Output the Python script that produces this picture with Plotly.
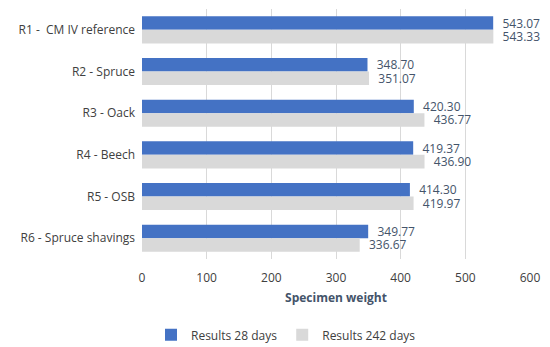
import plotly.graph_objects as go

categories = ["R1 -  CM IV reference", "R2 - Spruce", "R3 - Oack", "R4 - Beech", "R5 - OSB", "R6 - Spruce shavings"]
results_28 = [543.07, 348.70, 420.30, 419.37, 414.30, 349.77]
results_242 = [543.33, 351.07, 436.77, 436.90, 419.97, 336.67]
series_names = ["Results 28 days", "Results 242 days"]
tick_vals = [0, 100, 200, 300, 400, 500, 600]

font_family = "Open Sans, Liberation Sans, sans-serif"
pad = "\u00a0\u00a0"

fig = go.Figure()
fig.add_trace(go.Bar(
    y=categories, x=results_28, orientation="h", name=series_names[0],
    marker=dict(color="#4472C4", line=dict(width=0)),
    text=[f"{pad}{v:.2f}" for v in results_28], textposition="outside", constraintext="none",
    textfont=dict(size=12, color="#44546A", family=font_family), cliponaxis=False,
))
fig.add_trace(go.Bar(
    y=categories, x=results_242, orientation="h", name=series_names[1],
    marker=dict(color="#D9D9D9", line=dict(width=0)),
    text=[f"{pad}{v:.2f}" for v in results_242], textposition="outside", constraintext="none",
    textfont=dict(size=12, color="#44546A", family=font_family), cliponaxis=False,
))

fig.update_layout(
    width=550, height=347,
    margin=dict(l=142, r=20, t=9, b=88),
    barmode="group", bargap=0.35, bargroupgap=0,
    plot_bgcolor="white", paper_bgcolor="white",
    font=dict(family=font_family, size=12, color="#404040"),
    xaxis=dict(
        range=[0, 600], tickvals=tick_vals, showgrid=True, gridcolor="#D9D9D9", gridwidth=1,
        zeroline=False, showline=False, ticks="", ticklabelstandoff=10,
        tickfont=dict(size=12, color="#404040"),
        title=dict(text="<b>Specimen weight</b>", font=dict(size=12, color="#44546A"), standoff=8),
    ),
    yaxis=dict(
        autorange="reversed", showgrid=False, showline=False, ticks="", ticklabelstandoff=6,
        tickfont=dict(size=12, color="#404040"),
    ),
    legend=dict(
        orientation="h", xref="container", x=0.52, xanchor="center",
        yref="container", y=0.035, yanchor="middle", font=dict(size=12, color="#404040"),
        traceorder="normal", itemwidth=30,
    ),
)

fig.write_html(
    "out.html",
    config={"displayModeBar": False},
    post_script="document.body.style.margin='0';document.body.style.overflow='hidden';",
)
